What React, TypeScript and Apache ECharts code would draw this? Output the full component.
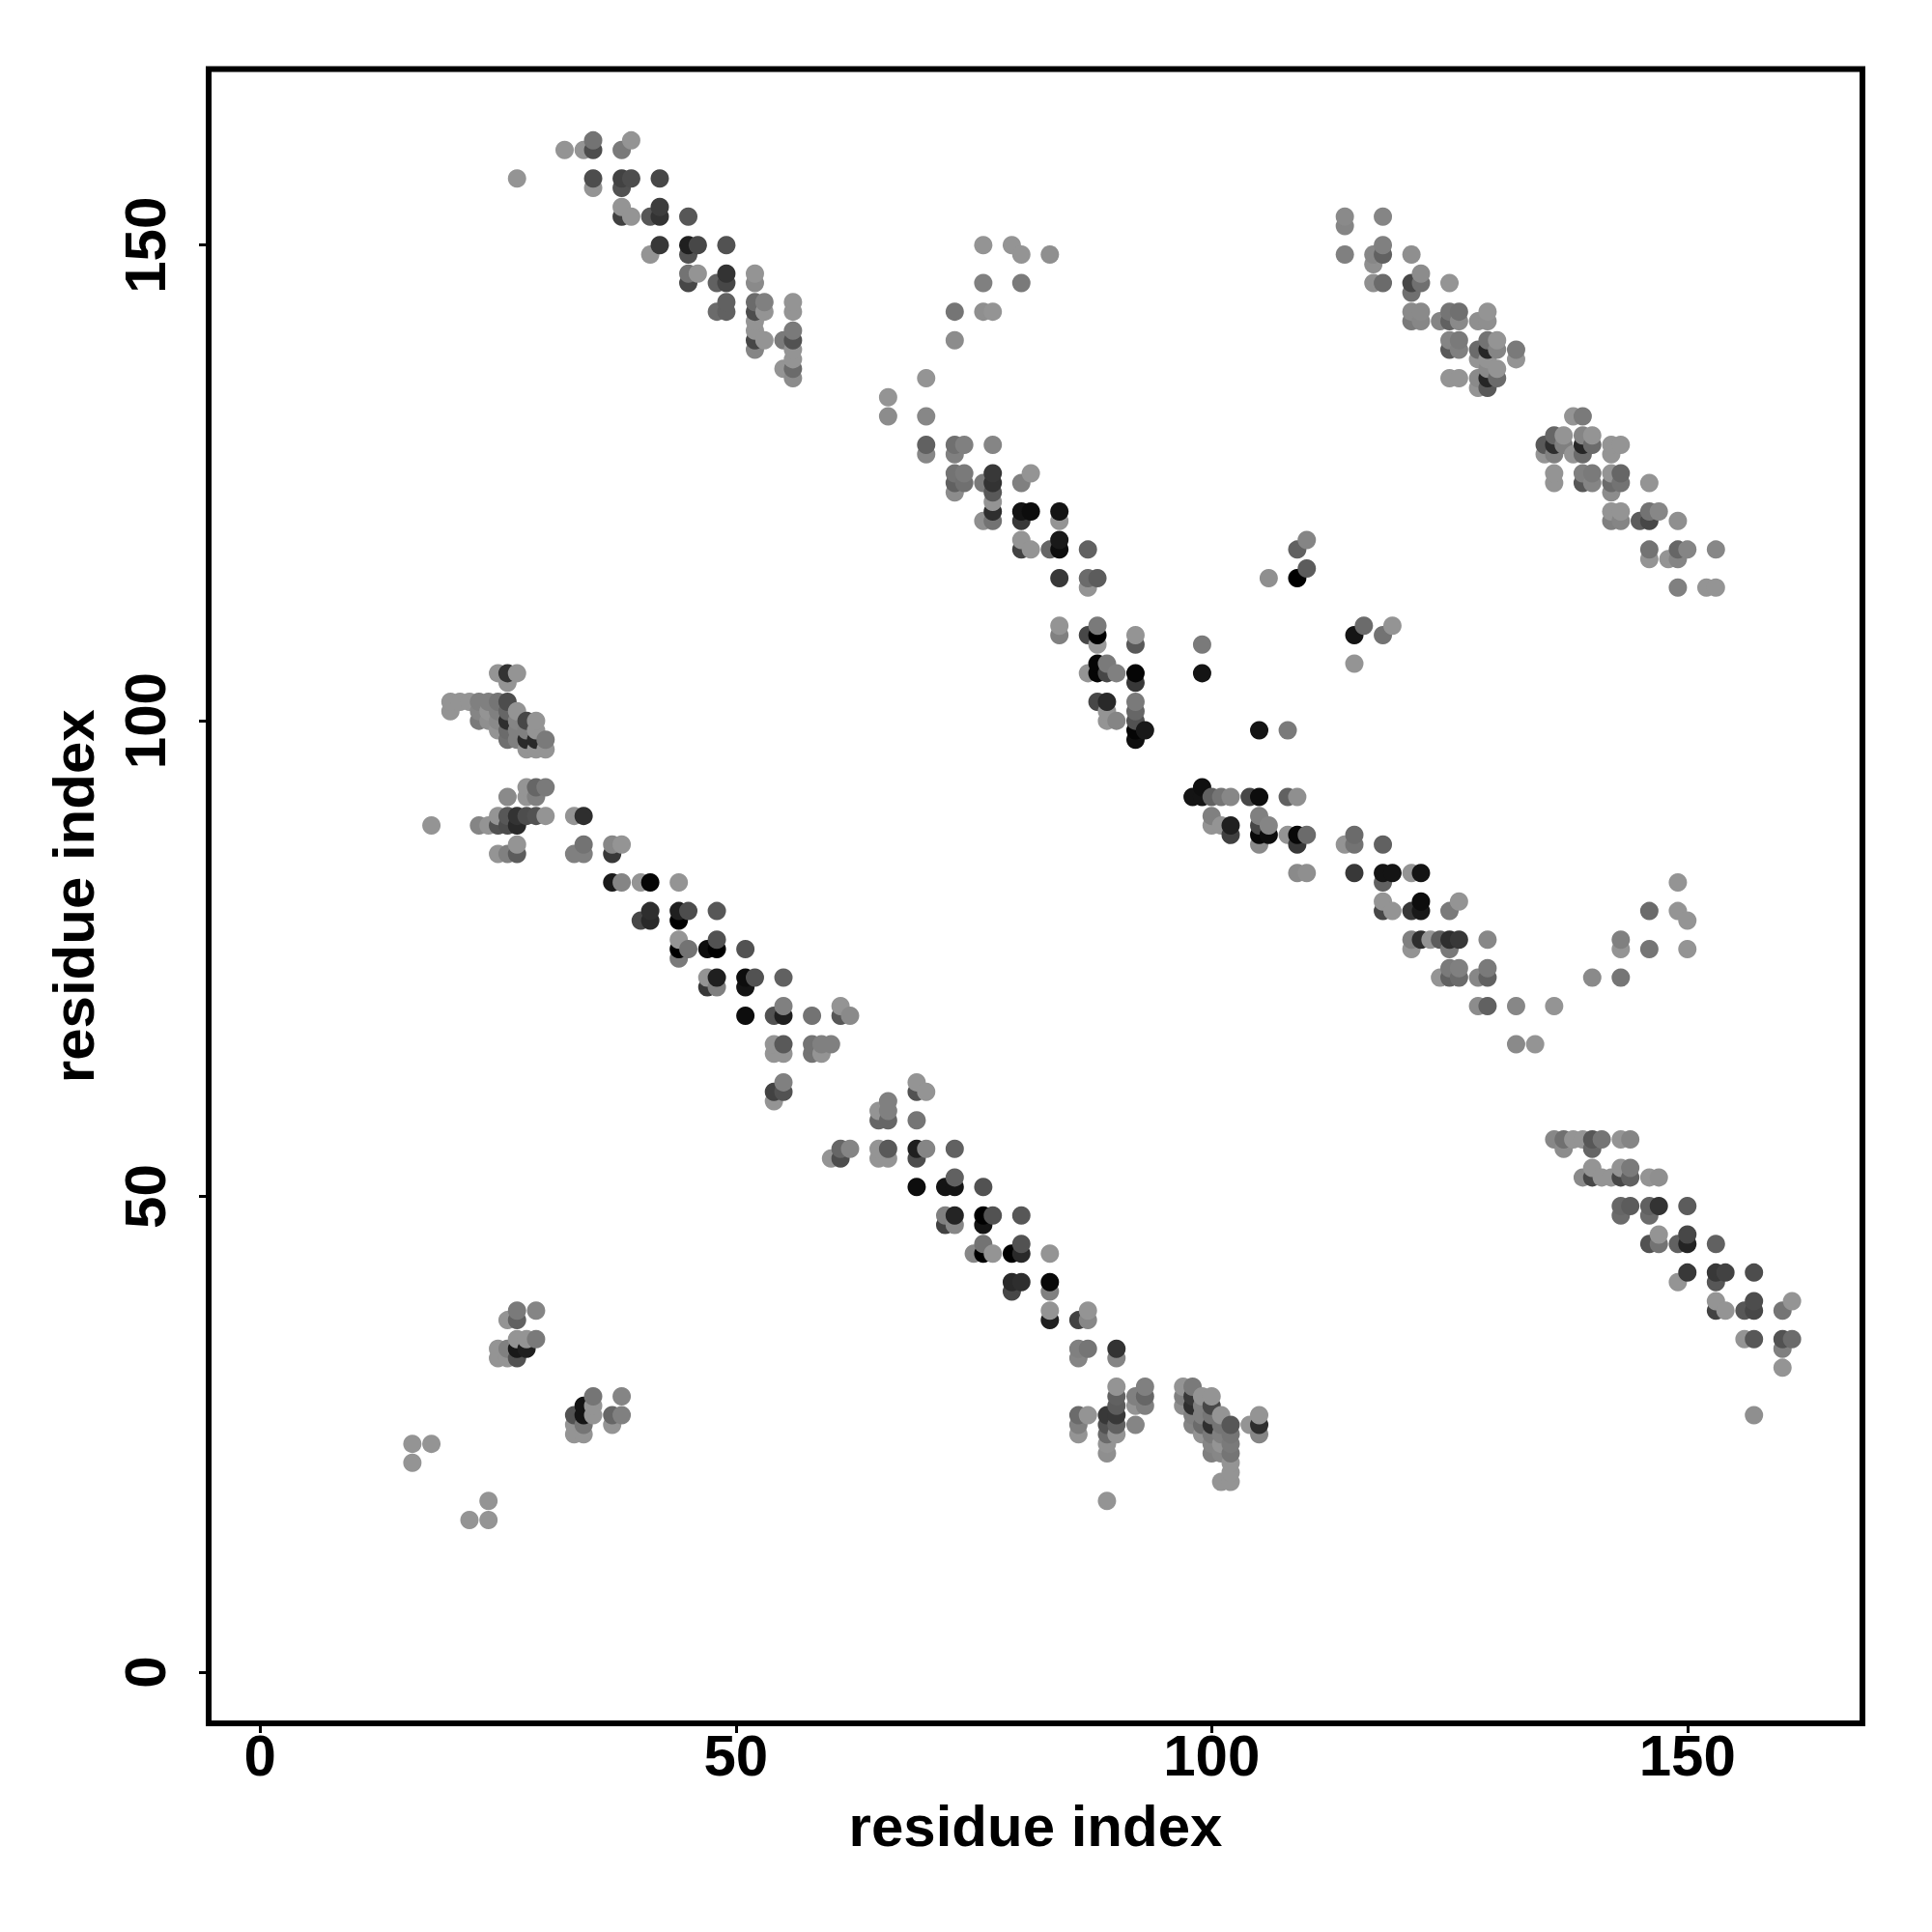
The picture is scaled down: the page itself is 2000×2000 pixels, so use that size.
import React, { useEffect, useRef } from "react";
import * as echarts from "echarts";

// Each mark: [residue x, residue y, darkness 0..1]
const L = 0.42;
type P = [number, number, number];

const upperStrandA: P[] = [
  [27,157,L],[32,160,L],[34,160,L],[35,160,0.7],[35,161,0.55],[38,160,0.52],[39,161,L],
  [35,156,L],[35,157,0.7],[38,156,0.68],[38,157,0.74],[39,157,0.7],[42,157,0.72],
  [38,153,0.75],[38,154,L],[39,153,L],[41,153,0.66],[42,153,0.8],[42,154,0.76],[45,153,0.66],
  [41,149,L],[42,150,0.78],[45,149,0.68],[45,150,0.88],[46,150,0.72],[49,150,0.68],
  [45,146,0.72],[45,147,0.55],[46,147,L],[48,146,0.62],[49,146,0.72],[49,147,0.8],
  [52,146,0.46],[52,147,L],[48,143,0.58],[49,143,0.62],[49,144,0.62],
  [52,139,0.48],[52,140,0.72],[52,141,L],[52,142,L],[52,143,0.7],[52,144,0.58],
  [53,140,L],[53,143,L],[53,144,0.5],[55,137,L],[55,140,0.52],
  [56,136,0.45],[56,137,0.58],[56,138,L],[56,139,L],[56,140,0.68],[56,141,0.52],[56,143,L],[56,144,L],
];

const upperStrandB: P[] = [
  [76,150,L],[79,150,L],[80,149,L],[83,149,0.44],[76,146,0.5],[80,146,0.52],
  [73,143,0.54],[76,143,0.44],[77,143,L],[73,140,0.45],[70,136,L],[66,134,L],[66,132,0.45],[70,132,0.47],
  [70,128,0.47],[70,129,0.62],[73,128,0.5],[73,129,0.56],[74,129,0.5],[77,129,0.48],
  [73,124,0.45],[73,125,0.62],[73,126,0.55],[74,125,0.56],[74,126,0.52],[76,125,0.52],
  [76,121,0.44],[77,121,0.55],[77,122,0.82],[77,123,L],[77,124,0.65],[77,125,0.8],[77,126,0.78],
  [80,125,0.5],[81,126,L],[80,121,0.78],[80,122,0.92],[81,122,0.95],[84,121,L],[84,122,0.92],
  [80,118,0.74],[80,119,L],[81,118,L],[83,118,0.6],[84,118,0.95],[84,119,0.9],[87,118,0.62],
  [84,115,0.78],[87,114,L],[87,115,0.58],[88,115,0.64],
  [106,115,0.44],[109,115,1],[110,116,0.64],[109,118,0.62],[110,119,0.48],
];

const middleStrand: P[] = [
  [84,109,0.5],[84,110,L],[87,109,0.72],[88,108,0.4],[88,109,1],[88,110,0.52],[92,108,0.65],[92,109,L],
  [99,108,0.52],[99,105,0.92],[115,109,0.92],[116,110,0.58],[115,106,L],[118,109,0.55],[119,110,L],
  [87,105,L],[88,105,0.98],[88,106,0.98],[89,105,0.72],[89,106,0.52],[90,105,0.5],[92,104,0.78],[92,105,0.98],
  [88,102,0.72],[89,100,L],[89,101,L],[89,102,0.84],[90,100,0.48],
  [92,98,0.94],[92,99,0.98],[92,100,0.68],[92,101,0.6],[92,102,0.52],[93,99,0.9],[105,99,0.92],[108,99,0.52],
];

const upperRightA: P[] = [
  [114,152,0.48],[114,153,0.46],[118,153,0.48],[114,149,0.5],[117,148,0.44],[117,149,0.47],[118,149,0.62],[118,150,0.5],
  [121,149,0.44],[117,146,0.44],[118,146,0.58],[121,145,0.56],[121,146,0.72],[122,146,0.56],[122,147,0.45],[125,146,L],
  [121,142,0.52],[121,143,0.46],[122,142,0.47],[122,143,0.46],[124,142,0.48],
  [125,142,0.62],[125,143,0.54],[126,142,0.46],[126,143,0.56],[128,142,0.44],[129,142,0.44],[129,143,L],
  [125,139,0.65],[125,140,0.48],[126,139,0.5],[126,140,0.52],[128,138,L],[128,139,0.58],
  [129,135,0.65],[129,136,0.85],[129,137,0.46],[129,138,L],[129,139,0.85],[129,140,0.55],
  [128,135,L],[128,136,0.46],[130,136,0.58],[130,137,L],[130,139,0.48],[130,140,L],
  [125,136,L],[126,136,L],[132,138,L],[132,139,0.52],
];

const upperRightB: P[] = [
  [138,132,L],[139,132,0.52],[135,128,L],[135,129,0.65],[136,128,0.5],[136,129,0.82],[136,130,0.6],
  [137,129,0.5],[137,130,L],[138,128,L],[139,128,0.58],[139,129,0.85],[139,130,0.48],[140,129,0.58],[140,130,L],
  [142,128,L],[142,129,L],[143,129,L],[136,125,L],[136,126,L],
  [139,125,0.66],[139,126,0.5],[140,125,0.48],[140,126,0.52],[142,124,0.45],[142,125,0.58],[142,126,L],[143,125,0.55],[143,126,0.6],
  [146,125,L],[142,121,0.5],[142,122,L],[143,121,0.48],[143,122,L],[145,121,0.64],[146,121,0.72],[146,122,0.55],[147,122,0.47],[149,121,0.44],
  [146,117,L],[146,118,0.55],[148,117,L],[149,117,0.48],[149,118,0.6],[150,118,0.48],[153,118,0.47],
  [149,114,0.5],[152,114,L],[153,114,L],
];

const leftCluster: P[] = [
  [25,105,L],[26,104,L],[26,105,0.8],[27,105,L],
  [20,101,L],[20,102,L],[21,102,L],[22,102,L],[23,100,0.52],[23,101,0.48],[23,102,0.5],[24,100,0.44],[24,101,L],[24,102,0.5],
  [25,99,L],[25,100,0.46],[25,101,0.5],[25,102,0.54],[26,98,0.56],[26,99,0.58],[26,100,0.82],[26,101,0.6],[26,102,0.7],
  [27,98,0.5],[27,99,0.5],[27,100,0.48],[27,101,L],[28,97,L],[28,98,0.84],[28,99,0.5],[28,100,0.72],
  [29,97,L],[29,98,0.84],[29,99,L],[29,100,L],[30,97,L],[30,98,0.52],
  [26,92,0.46],[28,92,L],[28,93,L],[29,92,0.5],[29,93,0.6],[30,93,0.52],
  [18,89,L],[23,89,0.48],[24,89,L],[25,89,0.68],[25,90,L],[26,89,0.7],[26,90,0.66],[27,89,0.84],[27,90,0.8],
  [28,90,0.7],[29,90,0.68],[30,90,L],[33,90,L],[34,90,0.82],
  [25,86,L],[26,86,0.5],[27,86,0.64],[27,87,L],[33,86,0.5],[34,86,0.5],[34,87,0.55],[37,86,0.78],[37,87,0.47],[38,87,L],
];

const lowerStrandA: P[] = [
  [37,83,0.9],[38,83,0.48],[40,83,L],[41,83,0.98],[44,83,L],[40,79,0.72],[41,79,0.84],[41,80,0.82],
  [44,79,1],[44,80,0.88],[45,80,0.7],[48,80,0.66],[44,75,0.52],[44,76,1],[44,77,L],[45,76,0.55],
  [47,76,0.95],[48,76,1],[48,77,0.68],[51,76,0.68],[47,72,0.78],[47,73,L],[48,72,0.5],[48,73,0.88],
  [51,72,0.92],[51,73,0.95],[52,73,0.68],[55,73,0.62],[51,69,0.95],[54,69,0.68],[55,69,0.88],[55,70,0.5],
  [58,69,0.55],[61,69,0.66],[61,70,L],[62,69,0.46],[54,65,L],[54,66,L],[55,65,L],[55,66,0.65],
  [58,65,0.55],[58,66,0.55],[59,65,L],[59,66,0.5],[60,66,0.5],
  [54,60,L],[54,61,0.74],[55,61,0.68],[55,62,0.5],[65,58,0.6],[65,59,L],[66,58,0.6],[66,59,0.5],[66,60,0.5],
  [69,58,0.54],[69,61,0.68],[69,62,L],[70,61,L],[60,54,L],[61,54,0.7],[61,55,0.6],[62,55,0.48],
  [65,54,L],[65,55,L],[66,54,L],[66,55,0.65],
];

const lowerStrandB: P[] = [
  [69,54,0.7],[69,55,0.88],[70,55,0.48],[73,55,0.62],[69,51,0.95],[72,51,0.92],[73,51,0.92],[73,52,0.62],[76,51,0.68],
  [72,47,0.74],[72,48,0.5],[73,47,0.47],[73,48,0.86],[76,47,0.92],[76,48,1],[77,48,0.68],[80,48,0.66],
  [75,44,0.47],[76,44,1],[76,45,0.55],[77,44,L],[79,44,1],[80,44,0.84],[80,45,0.68],[83,44,L],
  [79,40,0.72],[79,41,0.84],[80,41,0.82],[83,40,0.5],[83,41,0.97],[83,37,0.88],[83,38,L],
  [86,37,0.74],[87,37,0.47],[87,38,L],[86,33,0.48],[86,34,0.5],[87,34,0.54],[90,33,0.48],[90,34,0.8],
];

const rightStrand: P[] = [
  [98,92,0.92],[99,92,0.92],[99,93,0.94],[100,92,0.62],[101,92,0.54],[102,92,0.47],[104,92,0.72],[105,92,0.95],[108,92,0.62],[109,92,0.44],
  [100,89,L],[100,90,0.5],[101,89,L],[102,88,0.75],[102,89,0.88],[105,87,0.46],[105,88,0.97],[105,89,0.72],[105,90,0.5],[106,88,0.95],[106,89,0.48],
  [108,88,L],[109,87,0.78],[109,88,0.97],[110,88,0.58],[114,87,L],[115,87,0.55],[115,88,0.58],[118,87,0.62],
  [109,84,0.46],[110,84,0.44],[115,84,0.78],[118,83,0.62],[118,84,0.92],[119,84,0.92],[121,84,L],[122,84,0.92],
  [118,80,0.72],[118,81,L],[119,80,L],[121,80,0.78],[122,80,0.9],[122,81,0.95],[125,80,0.52],[126,81,L],
  [121,76,L],[121,77,0.5],[122,77,0.82],[123,77,L],[124,77,0.64],[125,76,0.52],[125,77,0.82],[126,77,0.78],[129,77,0.47],
  [124,73,L],[125,73,0.62],[125,74,0.52],[126,73,0.58],[126,74,0.5],[128,73,0.47],[129,73,0.62],[129,74,0.52],
  [128,70,0.45],[129,70,0.62],[132,70,0.47],[136,70,L],[132,66,0.46],[134,66,L],
  [140,73,0.46],[143,73,0.54],[143,76,L],[143,77,0.5],[146,76,0.54],[146,80,0.58],[149,80,L],[149,83,L],[150,76,L],[150,79,L],
];

const lowerRightStrand: P[] = [
  [136,56,0.47],[137,55,0.45],[137,56,0.56],[138,56,L],[139,56,L],[140,55,0.6],[140,56,0.66],[141,56,0.54],[143,56,L],[144,56,0.48],
  [139,52,0.46],[140,52,0.72],[140,53,L],[141,52,L],[142,52,L],[143,52,0.72],[143,53,L],[144,52,0.62],[144,53,0.52],[146,52,L],[147,52,0.44],
  [143,48,0.58],[143,49,0.6],[144,49,0.64],[146,48,0.58],[146,49,0.62],[147,49,0.8],[150,49,0.64],
  [146,45,0.68],[147,45,0.55],[147,46,L],[149,45,0.62],[150,45,0.86],[150,46,0.72],[153,45,0.62],
  [149,41,L],[150,42,0.78],[153,41,0.66],[153,42,0.78],[154,42,0.74],[157,42,0.7],
  [153,38,0.74],[153,39,L],[154,38,L],[156,38,0.66],[157,38,0.72],[157,39,0.7],[160,38,0.54],[161,39,L],
  [156,35,L],[157,35,0.66],[160,34,0.5],[160,35,0.68],[161,35,0.58],[160,32,L],[157,27,0.44],
];

const lowerCentre: P[] = [
  [90,30,L],[90,29,0.62],[90,28,0.64],[90,27,0.78],[89,27,0.78],[90,26,0.62],[89,26,0.68],[89,25,0.58],[90,25,L],
  [89,24,L],[89,23,0.44],[89,18,L],[86,27,0.58],[87,27,L],[86,26,0.5],[86,25,L],
  [93,30,0.5],[93,29,0.6],[92,29,0.5],[92,28,L],[93,28,0.5],[92,26,0.48],
  [97,30,L],[97,29,0.5],[97,28,0.44],[98,30,0.52],[98,29,0.78],[98,28,0.82],[98,27,0.5],[98,26,0.48],
  [99,29,L],[99,28,0.5],[99,27,0.5],[99,26,0.58],[99,25,L],
  [100,29,L],[100,28,0.72],[100,27,0.54],[100,26,0.82],[100,25,0.52],[100,24,0.48],[100,23,0.5],
  [101,27,L],[101,26,0.54],[101,25,0.5],[101,24,L],[101,23,0.47],[101,20,L],
  [102,26,0.66],[102,25,0.54],[102,24,0.52],[102,23,0.54],[102,22,L],[102,21,L],[102,20,L],
  [104,26,L],[105,27,L],[105,26,0.82],[105,25,0.48],
];

const lowerLeft: P[] = [
  [16,24,L],[18,24,L],[16,22,L],[24,18,L],[22,16,L],[24,16,L],
  [27,38,0.52],[29,38,0.48],[26,37,L],[27,37,0.62],[27,35,L],[28,35,L],[29,35,0.52],
  [25,34,L],[26,34,0.5],[27,34,0.9],[28,34,0.88],[25,33,L],[26,33,L],[27,33,0.68],
  [33,27,0.68],[34,28,0.92],[34,27,0.92],[35,29,0.54],[35,28,L],[35,27,L],
  [37,27,0.6],[38,29,0.48],[38,27,0.5],[37,26,L],[33,26,L],[34,26,0.54],[33,25,L],[34,25,L],
];

const tickValues = [0, 50, 100, 150];
const axisTitle = "residue index";
const FONT = "Liberation Sans";

const allMarks: P[] = [
  ...upperStrandA, ...upperStrandB, ...middleStrand, ...upperRightA, ...upperRightB, ...leftCluster,
  ...lowerStrandA, ...lowerStrandB, ...rightStrand, ...lowerRightStrand, ...lowerCentre, ...lowerLeft,
].sort((a, b) => a[0] - b[0] || a[1] - b[1]);

const grey = (s: number) => {
  const v = Math.round(255 * (1 - s));
  return `rgb(${v},${v},${v})`;
};

const axisBase = {
  type: "value" as const,
  splitLine: { show: false },
  axisLine: { show: false, onZero: false },
  axisTick: { show: true, length: 10, lineStyle: { color: "#000", width: 3 }, customValues: tickValues },
  name: axisTitle,
  nameLocation: "middle" as const,
  nameTextStyle: { fontFamily: FONT, fontWeight: "bold" as const, fontSize: 60, color: "#000" },
};

export default function App() {
  const ref = useRef<HTMLDivElement>(null);
  useEffect(() => {
    const chart = echarts.init(ref.current!, undefined, { renderer: "svg" });
    chart.setOption({
      animation: false,
      backgroundColor: "#fff",
      grid: { left: 216, top: 71.5, width: 1712, height: 1712.5, show: true, borderColor: "#000", borderWidth: 6, backgroundColor: "transparent" },
      xAxis: {
        ...axisBase,
        min: -5.41,
        max: 168.4,
        nameGap: 76,
        axisLabel: { customValues: tickValues, margin: 3, fontFamily: FONT, fontWeight: "bold", fontSize: 60, color: "#000" },
      },
      yAxis: {
        ...axisBase,
        min: -5.38,
        max: 168.5,
        nameGap: 110,
        nameRotate: 90,
        axisLabel: { customValues: tickValues, rotate: 90, margin: 36, fontFamily: FONT, fontWeight: "bold", fontSize: 60, color: "#000" },
      },
      series: [{
        type: "scatter",
        symbol: "circle",
        symbolSize: 19,
        silent: true,
        data: allMarks.map(([x, y, s]) => ({ value: [x, y], itemStyle: { color: grey(s), opacity: 1 } })),
      }],
    });
    return () => chart.dispose();
  }, []);
  return <div ref={ref} style={{ position: "absolute", left: 0, top: 0, width: 2000, height: 2000 }} />;
}
